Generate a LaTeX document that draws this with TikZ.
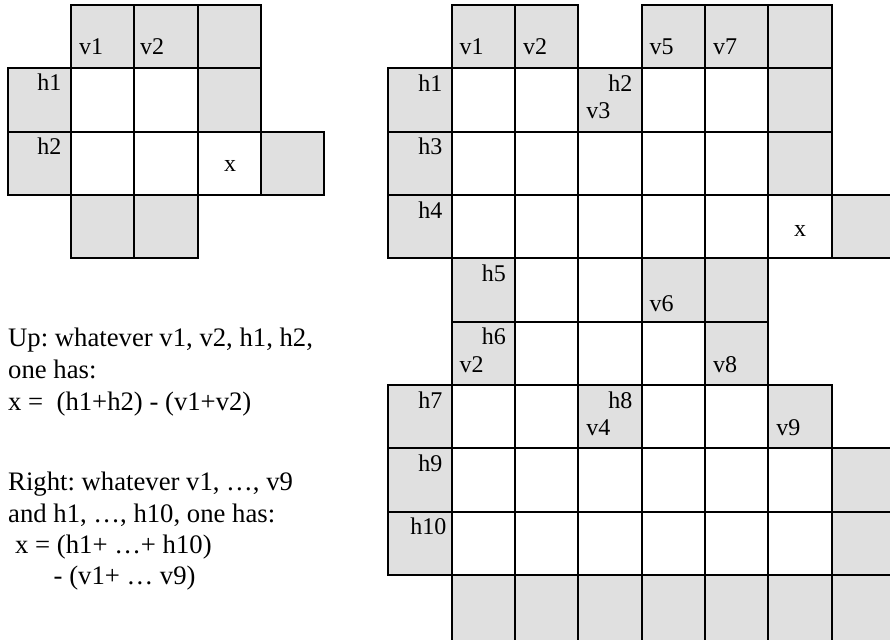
\documentclass[tikz,border=0pt]{standalone}
\usepackage{fontspec}
\setmainfont{Liberation Serif}
\definecolor{cellgrey}{RGB}{224,224,224}
\begin{document}
\frenchspacing
\begin{tikzpicture}[x=1pt,y=-1pt,
  gcell/.style={draw=black,line width=2pt,fill=cellgrey},
  wcell/.style={draw=black,line width=2pt,fill=white},
  lbl/.style={inner sep=0pt,font=\fontsize{24}{28}\selectfont},
  vl/.style={lbl,anchor=base west},
  hl/.style={lbl,anchor=base east},
  xl/.style={lbl,anchor=base},
  body/.style={inner sep=0pt,anchor=base west,font=\fontsize{26.7}{31.7}\selectfont}]
\useasboundingbox (0,0) rectangle (890,639);
\clip (0,0) rectangle (890,639);
\def\cs{63.33}
% ---------- left grid ----------
\foreach \c/\r in {1/0,2/0,3/0,0/1,3/1,0/2,4/2,1/3,2/3}
  \draw[gcell] (7.7+\c*\cs,5+\r*\cs) rectangle ++(\cs,\cs);
\foreach \c/\r in {1/1,2/1,1/2,2/2,3/2}
  \draw[wcell] (7.7+\c*\cs,5+\r*\cs) rectangle ++(\cs,\cs);
\node[vl] (Lv1) at (79,55) {v1};
\node[vl] (Lv2) at (140,55) {v2};
\node[hl] (Lh1) at (61.5,90.7) {h1};
\node[hl] (Lh2) at (61.5,154) {h2};
\node[xl] (Lx) at (230,171.7) {x};
% ---------- right grid ----------
\foreach \c/\r in {1/0,2/0,4/0,5/0,6/0,0/1,3/1,6/1,0/2,6/2,0/3,7/3,1/4,4/4,5/4,1/5,5/5,0/6,3/6,6/6,0/7,7/7,0/8,7/8}
  \draw[gcell] (388.3+\c*\cs,5+\r*\cs) rectangle ++(\cs,\cs);
% bottom row, cut off by the picture's lower edge
\foreach \c in {1,...,7}
  \draw[gcell] (388.3+\c*\cs,5+9*\cs) rectangle ++(\cs,\cs+8);
\foreach \c/\r in {1/1,2/1,4/1,5/1,1/2,2/2,3/2,4/2,5/2,1/3,2/3,3/3,4/3,5/3,6/3,2/4,3/4,2/5,3/5,4/5,1/6,2/6,4/6,5/6,1/7,2/7,3/7,4/7,5/7,6/7,1/8,2/8,3/8,4/8,5/8,6/8}
  \draw[wcell] (388.3+\c*\cs,5+\r*\cs) rectangle ++(\cs,\cs);
\node[vl] (Rv1) at (459.5,55) {v1};
\node[vl] (Rv2) at (522.8,55) {v2};
\node[vl] (Rv5) at (649.5,55) {v5};
\node[vl] (Rv7) at (712.8,55) {v7};
\node[vl] (Rv3) at (586.1,118.3) {v3};
\node[vl] (Rv6) at (649.5,311.7) {v6};
\node[vl] (Rv2b) at (459.5,372) {v2};
\node[vl] (Rv8) at (712.8,372) {v8};
\node[vl] (Rv4) at (586.1,435) {v4};
\node[vl] (Rv9) at (776.1,435) {v9};
\node[hl] (Rh1) at (442.6,91.3) {h1};
\node[hl] (Rh2) at (632.6,91.3) {h2};
\node[hl] (Rh3) at (442.6,154.7) {h3};
\node[hl] (Rh4) at (442.6,218) {h4};
\node[hl] (Rh5) at (506,281.3) {h5};
\node[hl] (Rh6) at (506,344.7) {h6};
\node[hl] (Rh7) at (442.6,408) {h7};
\node[hl] (Rh8) at (632.6,408) {h8};
\node[hl] (Rh9) at (442.6,471.3) {h9};
\node[hl] (Rh10) at (446.5,534.7) {h10};
\node[xl] (Rx) at (800,236.7) {x};
% ---------- text ----------
\node[body] (t1) at (8,346.7) {Up: whatever v1, v2, h1, h2,};
\node[body] (t2) at (8,378) {one has:};
\node[body] (t3) at (8,410.7) {x =\ \ (h1+h2) - (v1+v2)};
\node[body] (t4) at (8,490.7) {Right: whatever v1, …, v9};
\node[body] (t5) at (8,522.7) {and h1, …, h10, one has:};
\node[body] (t6) at (15,553.3) {x = (h1+ …+ h10)};
\node[body] (t7) at (53.5,584) {- (v1+ … v9)};
\end{tikzpicture}
\end{document}
